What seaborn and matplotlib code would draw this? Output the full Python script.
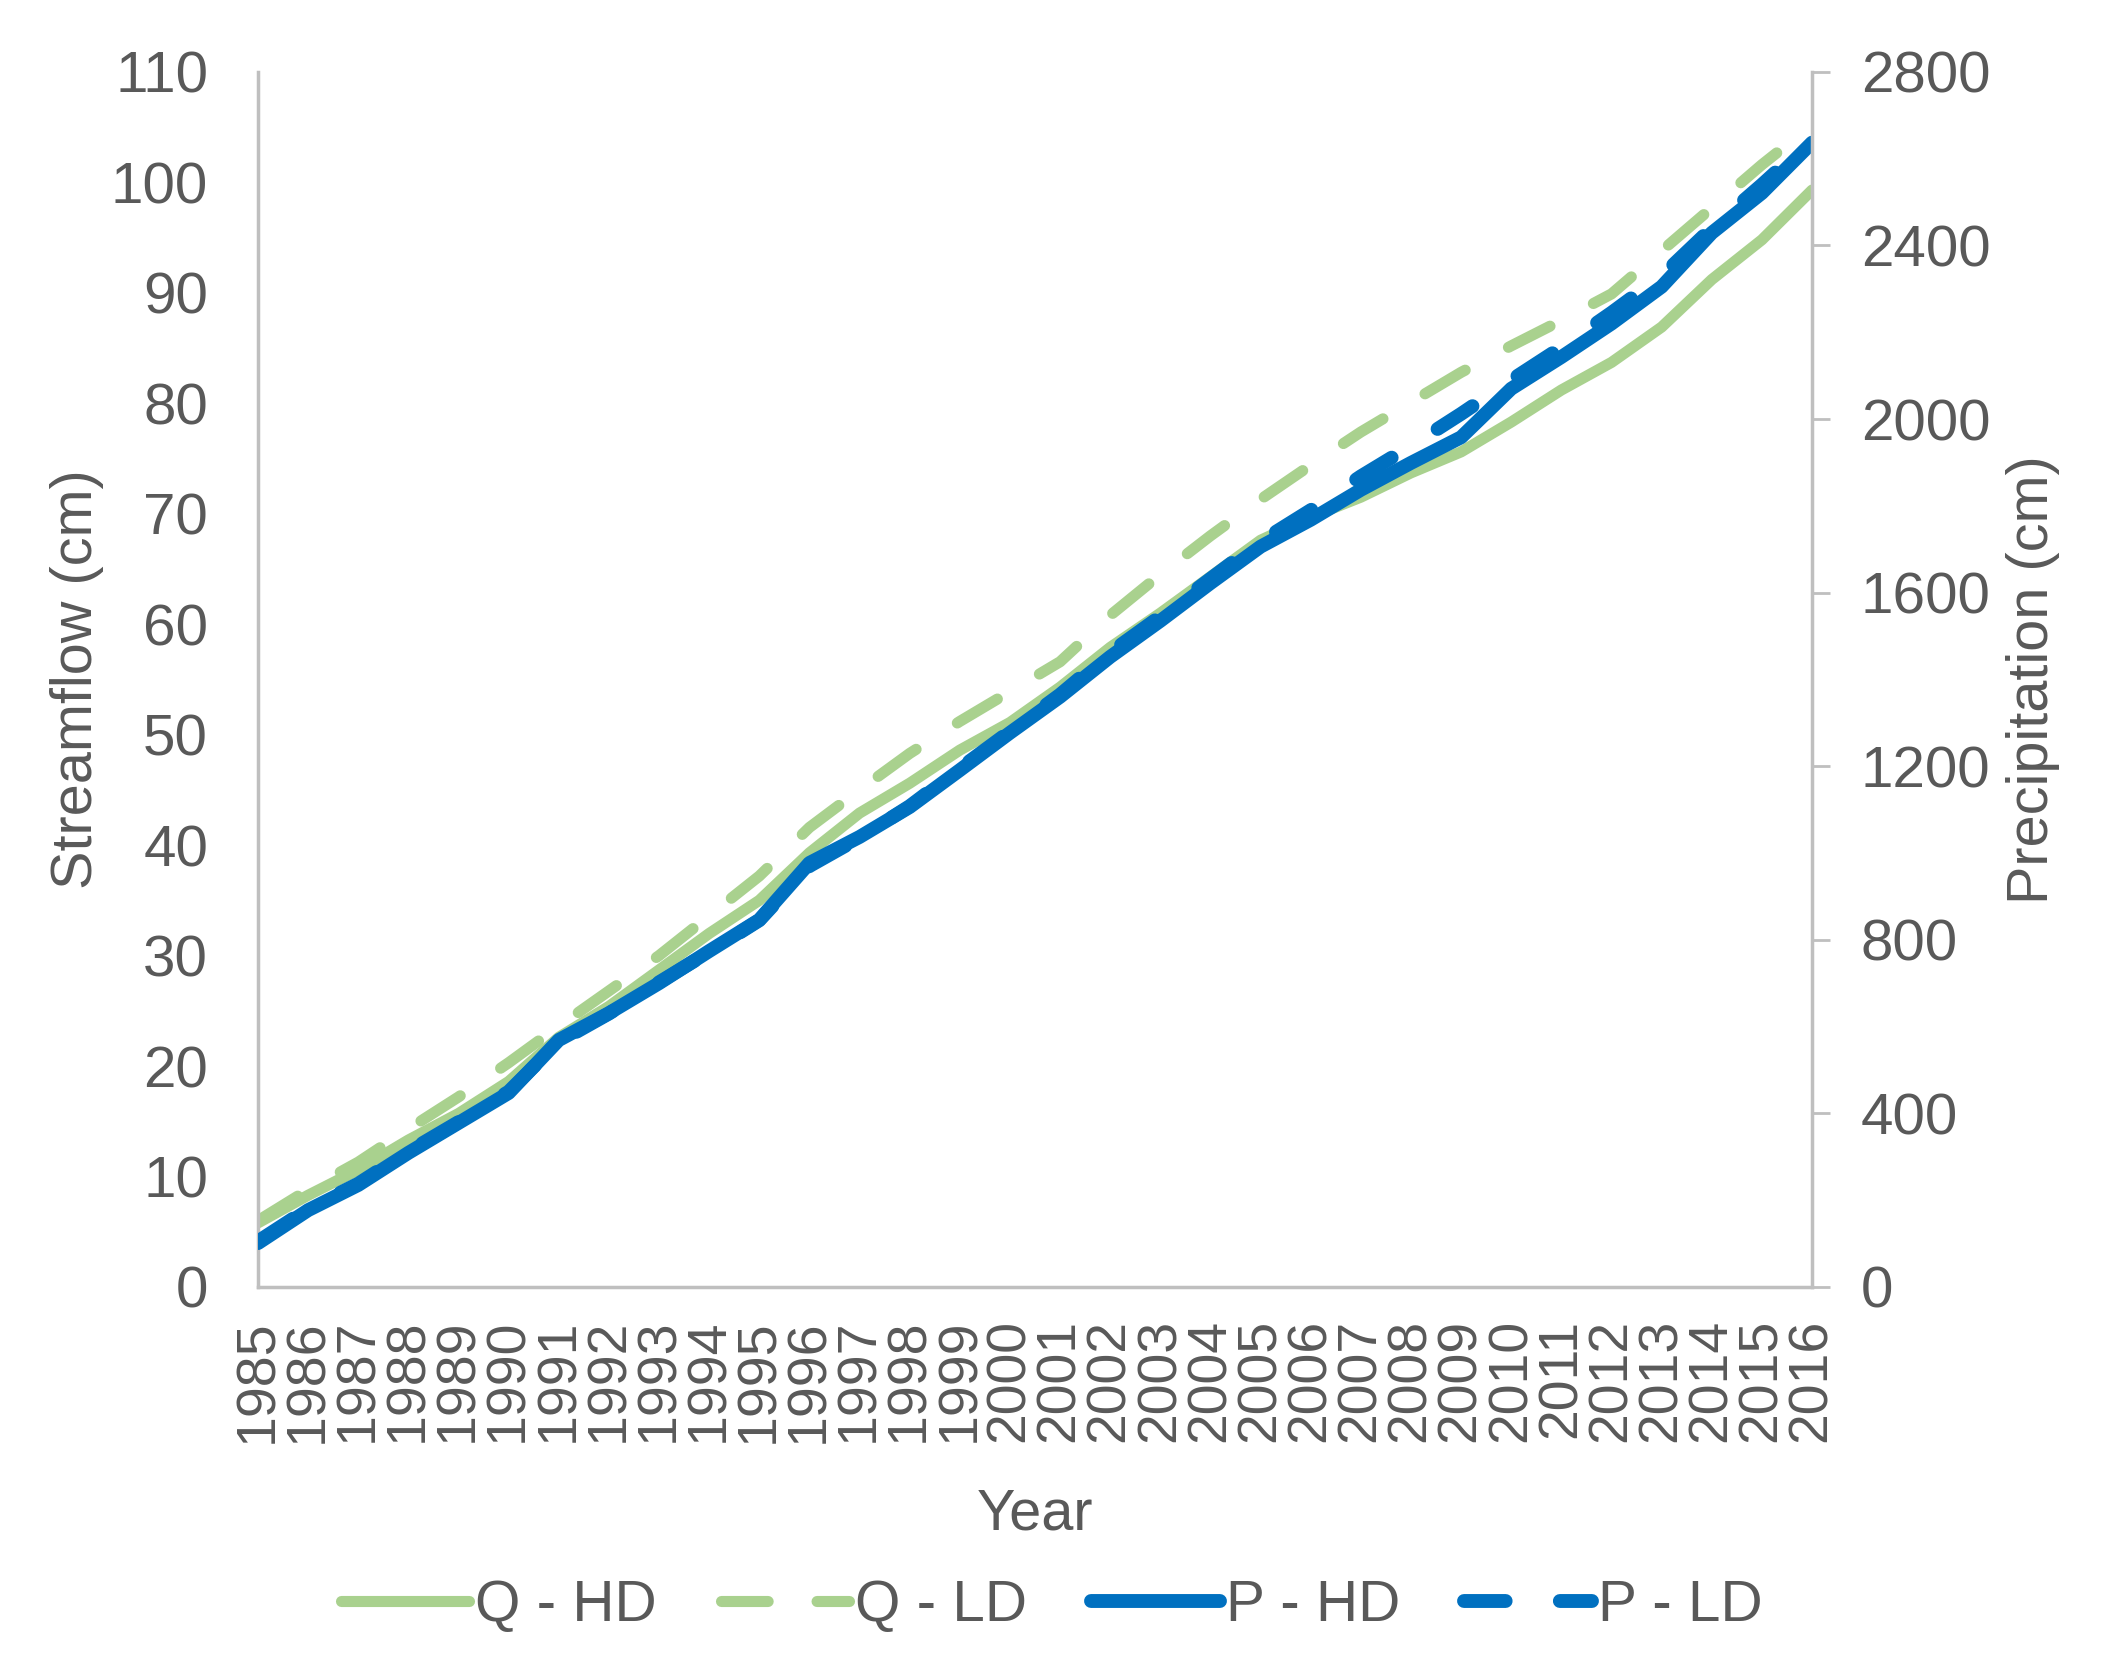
import matplotlib
matplotlib.use("Agg")
import matplotlib.pyplot as plt
from matplotlib.lines import Line2D
import seaborn as sns

# cumulative values
years = list(range(1985, 2017))
q_hd = [5.8, 8.3, 10.6, 13.3, 15.7, 18.6, 22.6, 25.4, 28.7, 32.0,
        35.0, 39.3, 42.9, 45.6, 48.6, 51.1, 54.3, 57.9, 61.0, 64.3,
        67.6, 69.7, 71.5, 73.7, 75.6, 78.3, 81.2, 83.7, 86.9, 91.2,
        94.8, 99.3]
q_ld = [6.0, 8.8, 11.3, 14.3, 17.2, 20.3, 23.6, 26.8, 30.0, 33.6,
        37.2, 41.6, 45.0, 48.3, 51.2, 53.9, 56.6, 60.8, 64.5, 68.0,
        71.3, 74.4, 77.4, 80.1, 82.8, 85.2, 87.5, 89.9, 93.8, 97.7,
        101.6, 105.2]
p_hd = [101, 177, 235, 309, 378, 447, 569, 631, 700, 774,
        846, 977, 1037, 1106, 1191, 1277, 1360, 1452, 1535, 1622,
        1706, 1768, 1837, 1899, 1958, 2070, 2143, 2220, 2305, 2429,
        2521, 2637]
p_ld = [105, 180, 238, 312, 380, 450, 565, 630, 702, 772,
        845, 970, 1035, 1108, 1195, 1280, 1365, 1462, 1545, 1632,
        1718, 1790, 1868, 1938, 2012, 2090, 2165, 2245, 2330, 2440,
        2540, 2645]

green = "#A9D18E"
blue = "#0070C0"
txt = "#595959"
axc = "#BFBFBF"
fs = 42

sns.set_style("white")
plt.rcParams['font.family'] = ['Liberation Sans', 'DejaVu Sans']

fig = plt.figure(figsize=(21.08, 16.64), dpi=100)
ax = fig.add_axes([0.1224, 0.2266, 0.7372, 0.7302])
ax2 = ax.twinx()

gw, bw = 8, 10
gdash, bdash = (4.2, 4.4), (3.0, 3.9)

sns.lineplot(x=years, y=q_hd, ax=ax, color=green, lw=gw, legend=False)
sns.lineplot(x=years, y=q_ld, ax=ax, color=green, lw=gw, legend=False)
ax.lines[-1].set_dashes(gdash)
sns.lineplot(x=years, y=p_hd, ax=ax2, color=blue, lw=bw, legend=False)
sns.lineplot(x=years, y=p_ld, ax=ax2, color=blue, lw=bw, legend=False)
ax2.lines[-1].set_dashes(bdash)
for l in ax.lines + ax2.lines:
    l.set_solid_capstyle("round")
    l.set_dash_capstyle("round")
    l.set_solid_joinstyle("round")
    l.set_dash_joinstyle("round")

ax.set_xlim(1985, 2016)
ax.set_ylim(0, 110)
ax2.set_ylim(0, 2800)
ax.set_xticks(years)
ax.set_xticklabels([str(y) for y in years], rotation=90)
ax.set_yticks(range(0, 111, 10))
ax2.set_yticks(range(0, 2801, 400))

ax.tick_params(axis="x", length=0, pad=23, labelsize=40, colors=txt)
ax.tick_params(axis="y", length=0, pad=36, labelsize=fs, colors=txt)
ax2.tick_params(axis="y", right=True, length=13, width=2, color=axc,
                pad=22, labelsize=fs, labelcolor=txt)

for a in (ax, ax2):
    a.spines["top"].set_visible(False)
    for s in ("left", "right", "bottom"):
        a.spines[s].set_color(axc)
        a.spines[s].set_linewidth(2.5)
ax.spines["right"].set_visible(False)
ax2.spines["left"].set_visible(False)
ax2.spines["bottom"].set_visible(False)

ax.set_xlabel("Year", fontsize=41.5, color=txt)
ax.set_ylabel("Streamflow (cm)", fontsize=41.5, color=txt)
ax2.set_ylabel("Precipitation (cm)", fontsize=41.5, color=txt)
ax.xaxis.set_label_coords(0.5, -0.165)
ax.yaxis.set_label_coords(-0.099, 0.5)
ax2.yaxis.set_label_coords(1.125, 0.5)

handles = [
    Line2D([], [], color=green, lw=gw, solid_capstyle="round"),
    Line2D([], [], color=green, lw=gw, dashes=gdash, dash_capstyle="round"),
    Line2D([], [], color=blue, lw=bw, solid_capstyle="round"),
    Line2D([], [], color=blue, lw=bw, dashes=bdash, dash_capstyle="round"),
]
labels = ["Q - HD", "Q - LD", "P - HD", "P - LD"]
leg = fig.legend(handles, labels, loc="center", bbox_to_anchor=(0.499, 1 - 1606 / 1664),
                 ncol=4, frameon=False, fontsize=fs, handlelength=2.2,
                 handletextpad=0.1, columnspacing=1.1)
for t in leg.get_texts():
    t.set_color(txt)

fig.savefig("out.png", dpi=100)
